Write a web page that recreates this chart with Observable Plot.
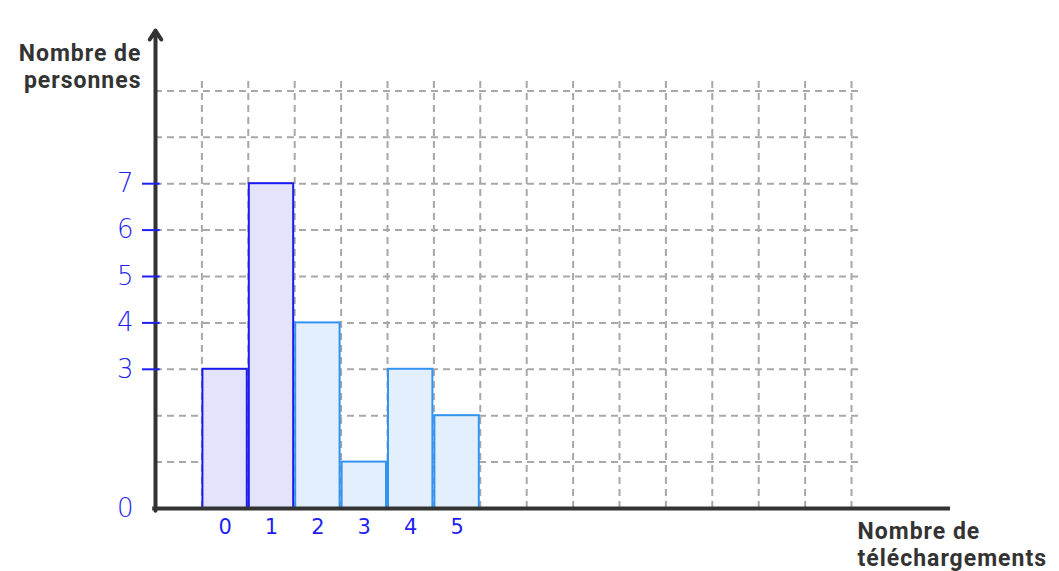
<!DOCTYPE html>
<html>
<head>
<meta charset="utf-8">
<script src="https://cdn.jsdelivr.net/npm/d3@7"></script>
<script src="https://cdn.jsdelivr.net/npm/@observablehq/plot@0.6"></script>
<style>
  html, body { margin: 0; padding: 0; background: #fff; }
  #chart svg { display: block; }
  #chart svg g[font-family="Roboto"] text { letter-spacing: 1px; }
</style>
</head>
<body>
<div id="chart"></div>
<script>
// ---- data ----
const categories = [0, 1, 2, 3, 4, 5];          // nombre de téléchargements
const counts = [3, 7, 4, 1, 3, 2];              // nombre de personnes
const groups = ["a", "a", "b", "b", "b", "b"];  // colour group
const yTickLabels = [0, 3, 4, 5, 6, 7];
const yTickMarks = [3, 4, 5, 6, 7];
const gridY = [1, 2, 3, 4, 5, 6, 7, 8, 9];
const gridX = [1, 2, 3, 4, 5, 6, 7, 8, 9, 10, 11, 12, 13, 14, 15];

const bars = categories.map((c, i) => ({cat: c, x1: c + 1, x2: c + 2, count: counts[i], group: groups[i]}));

const W = 1059, H = 571;
const mL = 155, mR = 109, mT = 30, mB = 63;
const unit = 46.4;
const xMax = (W - mL - mR) / unit;
const yMax = (H - mT - mB) / unit;

const blue = "#1f1ff0";
const dark = "#333333";
const gridCol = "#a8a8a8";

const chart = Plot.plot({
  width: W,
  height: H,
  marginLeft: mL,
  marginRight: mR,
  marginTop: mT,
  marginBottom: mB,
  x: {domain: [0, xMax], axis: null},
  y: {domain: [0, yMax], axis: null},
  style: {background: "#fff", overflow: "visible"},
  marks: [
    // dashed grid
    Plot.ruleY(gridY, {y: d => d, x1: 0, x2: 15.25, stroke: gridCol, strokeWidth: 2, strokeDasharray: "7,5"}),
    Plot.ruleX(gridX, {x: d => d, y1: 0, y2: 9.2, stroke: gridCol, strokeWidth: 2, strokeDasharray: "7,5"}),
    // bars
    Plot.rectY(bars, {
      x1: "x1", x2: "x2", y1: 0, y2: "count",
      fill: d => d.group === "a" ? "#e3e3fb" : "#e3effc",
      stroke: d => d.group === "a" ? "#1a1aee" : "#3393f0",
      strokeWidth: 2,
      insetLeft: 1, insetRight: 1
    }),
    // axes
    Plot.ruleY([0], {x1: -0.06, x2: xMax, stroke: dark, strokeWidth: 4}),
    Plot.arrow([0], {x1: 0, x2: 0, y1: -0.05, y2: yMax, stroke: dark, strokeWidth: 4, headLength: 4, headAngle: 65}),
    // y tick marks
    Plot.ruleY(yTickMarks, {y: d => d, x1: -0.28, x2: 0.1, stroke: blue, strokeWidth: 2}),
    // y tick labels
    Plot.text(yTickLabels, {y: d => d, x: -0.65, text: d => String(d), fill: blue, fontSize: 26, fontFamily: "DejaVu Sans", fontWeight: 300, textAnchor: "middle"}),
    // x tick labels
    Plot.text(bars, {x: d => d.cat + 1.5, y: 0, dy: 19, text: d => String(d.cat), fill: blue, fontSize: 21, fontFamily: "DejaVu Sans", textAnchor: "middle"}),
    // axis titles
    Plot.text(["Nombre de\npersonnes"], {frameAnchor: "top-left", dx: -14, dy: 11, text: d => d, textAnchor: "end", lineAnchor: "top", fill: dark, fontSize: 23, fontWeight: "bold", fontFamily: "Roboto", lineHeight: 1.18}),
    Plot.text(["Nombre de\ntéléchargements"], {frameAnchor: "bottom-left", dx: 702, dy: 11, text: d => d, textAnchor: "start", lineAnchor: "top", fill: dark, fontSize: 23, fontWeight: "bold", fontFamily: "Roboto", lineHeight: 1.18})
  ]
});
document.getElementById("chart").appendChild(chart);
</script>
</body>
</html>
